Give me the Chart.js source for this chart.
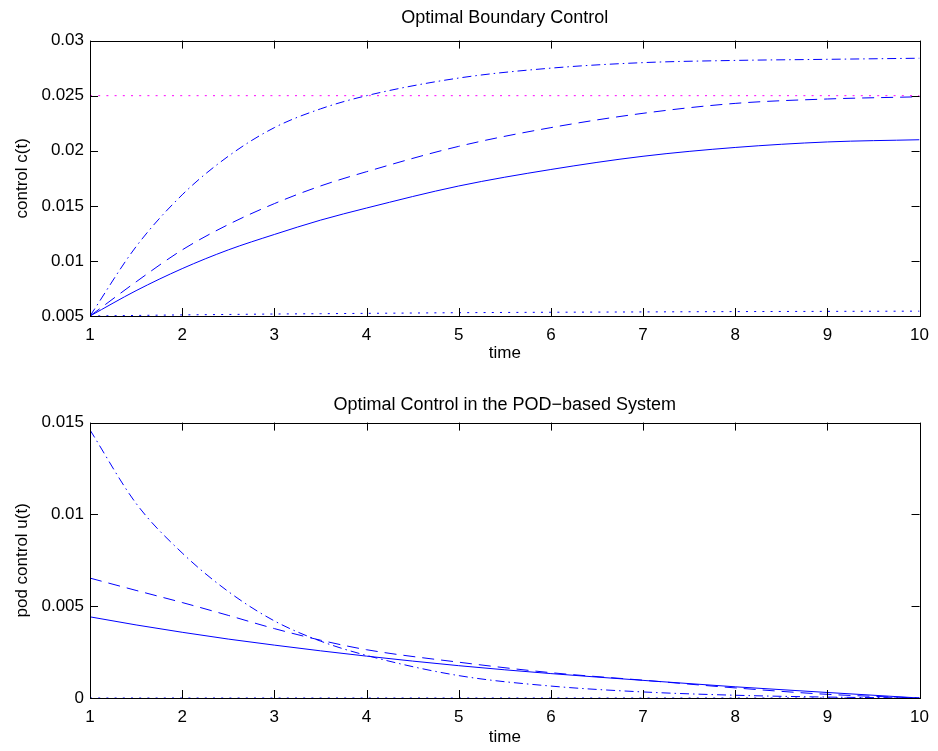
<!DOCTYPE html>
<html>
<head>
<meta charset="utf-8">
<script src="https://cdn.jsdelivr.net/npm/chart.js@4.4.1/dist/chart.umd.min.js"></script>
<style>
  html, body { margin: 0; padding: 0; background: #fff; }
  #wrap { position: relative; width: 938px; height: 751px; }
  canvas { position: absolute; left: 0; }
</style>
</head>
<body>
<div id="wrap">
  <canvas id="boundaryChart" width="938" height="375" style="top:0"></canvas>
  <canvas id="podChart" width="938" height="376" style="top:375px"></canvas>
</div>
<script>
// sample times
const time = [1, 1.5, 2, 2.5, 3, 3.5, 4, 5, 6, 7, 8, 9, 10];

// top panel: boundary control c(t)
const cSolid   = [0.005, 0.0073, 0.0093, 0.0110, 0.0124, 0.0137, 0.0148, 0.0168, 0.0183, 0.0195, 0.0203, 0.0208, 0.0210];
const cDashed  = [0.005, 0.0081, 0.0110, 0.0133, 0.0152, 0.0168, 0.0181, 0.0204, 0.0221, 0.0234, 0.0243, 0.0247, 0.0249];
const cDashDot = [0.005, 0.0113, 0.0160, 0.0195, 0.0221, 0.0238, 0.0250, 0.0266, 0.0275, 0.0280, 0.0282, 0.0283, 0.0284];
const cLower   = [0.005, 0.00505, 0.0051, 0.00514, 0.00518, 0.00521, 0.00524, 0.0053, 0.00534, 0.00537, 0.0054, 0.00542, 0.00544];
const cUpperT  = [1, 10];
const cUpper   = [0.025, 0.025];

// bottom panel: pod control u(t)
const uSolid   = [0.00442, 0.00398, 0.00358, 0.00321, 0.00288, 0.00257, 0.00228, 0.00176, 0.00133, 0.00096, 0.00061, 0.0003, 0];
const uDashed  = [0.00653, 0.00586, 0.00520, 0.00450, 0.00378, 0.00315, 0.00263, 0.00195, 0.00138, 0.00097, 0.00055, 0.0002, 0];
const uDashDot = [0.0146, 0.0106, 0.0079, 0.0058, 0.0042, 0.0031, 0.00232, 0.00122, 0.00065, 0.00033, 0.00015, 0.00005, 0];
const uZeroT   = [1, 10];
const uZero    = [0, 0];

// tick labels
const xTicks = [1, 2, 3, 4, 5, 6, 7, 8, 9, 10];
const cTicks = [0.005, 0.01, 0.015, 0.02, 0.025, 0.03];
const uTicks = [0, 0.005, 0.01, 0.015];

const BLUE = "#0000ff";
const FONT = "'Liberation Sans', Arial, Helvetica, sans-serif";

function pts(xs, ys) {
    return xs.map((x, i) => ({ x: x, y: ys[i] }));
}

function line(xs, ys, dash, color) {
    return {
        data: pts(xs, ys),
        borderColor: color || BLUE,
        borderWidth: 1,
        borderDash: dash,
        pointRadius: 0,
        cubicInterpolationMode: "monotone",
        fill: false,
    };
}

// matlab style box with inward ticks on all four sides
const boxTicks = {
    id: "boxTicks",
    afterDatasetsDraw(chart) {
        const { ctx, chartArea: a, scales } = chart;
        const len = 8;
        ctx.save();
        ctx.strokeStyle = "#000";
        ctx.lineWidth = 1;
        ctx.beginPath();
        scales.x.ticks.forEach((t) => {
            const px = Math.round(scales.x.getPixelForValue(t.value)) + 0.5;
            ctx.moveTo(px, a.bottom); ctx.lineTo(px, a.bottom - len);
            ctx.moveTo(px, a.top); ctx.lineTo(px, a.top + len);
        });
        scales.y.ticks.forEach((t) => {
            const py = Math.round(scales.y.getPixelForValue(t.value)) + 0.5;
            ctx.moveTo(a.left, py); ctx.lineTo(a.left + len, py);
            ctx.moveTo(a.right, py); ctx.lineTo(a.right - len, py);
        });
        ctx.stroke();
        ctx.strokeRect(Math.round(a.left) + 0.5, Math.round(a.top) + 0.5,
            Math.round(a.right - a.left), Math.round(a.bottom - a.top));
        ctx.restore();
    },
};

function makeChart(id, datasets, opts) {
    return new Chart(document.getElementById(id), {
        type: "line",
        data: { datasets: datasets },
        plugins: [boxTicks],
        options: {
            responsive: false,
            animation: false,
            devicePixelRatio: 1,
            layout: { padding: { left: 0, right: 16, top: 0, bottom: 0 } },
            plugins: {
                legend: { display: false },
                tooltip: { enabled: false },
                title: {
                    display: true,
                    fullSize: false,
                    text: opts.title,
                    color: "#000",
                    font: { family: FONT, size: 18, weight: "normal", lineHeight: 1.2 },
                    padding: opts.titlePad,
                },
            },
            scales: {
                x: {
                    type: "linear",
                    min: 1,
                    max: 10,
                    grid: { display: false, drawTicks: false },
                    border: { display: false },
                    afterBuildTicks: (axis) => { axis.ticks = xTicks.map((v) => ({ value: v })); },
                    afterFit: (axis) => { axis.height = opts.xHeight; },
                    ticks: { color: "#000", padding: 9, maxRotation: 0, font: { family: FONT, size: 17 } },
                    title: {
                        display: true,
                        text: "time",
                        color: "#000",
                        font: { family: FONT, size: 17, lineHeight: 1.2 },
                        padding: { top: 0, bottom: opts.xTitleBottom },
                    },
                },
                y: {
                    type: "linear",
                    min: opts.yTicks[0],
                    max: opts.yTicks[opts.yTicks.length - 1],
                    grid: { display: false, drawTicks: false },
                    border: { display: false },
                    afterBuildTicks: (axis) => { axis.ticks = opts.yTicks.map((v) => ({ value: v })); },
                    afterFit: (axis) => { axis.width = 90; },
                    ticks: {
                        color: "#000",
                        padding: 6,
                        font: { family: FONT, size: 17 },
                        callback: (v) => String(+v.toFixed(4)),
                    },
                    title: {
                        display: true,
                        text: opts.yTitle,
                        color: "#000",
                        font: { family: FONT, size: 17, lineHeight: 1.2 },
                        padding: { top: 12, bottom: 0 },
                    },
                },
            },
        },
    });
}

// Optimal Boundary Control
makeChart("boundaryChart", [
    line(cUpperT, cUpper, [2, 6.2], "#ff00ff"),
    line(time, cLower, [2, 6.2]),
    line(time, cSolid, []),
    line(time, cDashed, [12, 7]),
    line(time, cDashDot, [9, 4, 1.5, 4]),
], {
    title: "Optimal Boundary Control",
    titlePad: { top: 7, bottom: 12 },
    yTicks: cTicks,
    yTitle: "control c(t)",
    xHeight: 59,
    xTitleBottom: 11,
});

// Optimal Control in the POD-based System
makeChart("podChart", [
    line(uZeroT, uZero, [2, 6.2]),
    line(time, uSolid, []),
    line(time, uDashed, [12, 7]),
    line(time, uDashDot, [9, 4, 1.5, 4]),
], {
    title: "Optimal Control in the POD\u2212based System",
    titlePad: { top: 19, bottom: 7 },
    yTicks: uTicks,
    yTitle: "pod control u(t)",
    xHeight: 53,
    xTitleBottom: 3,
});
</script>
</body>
</html>
